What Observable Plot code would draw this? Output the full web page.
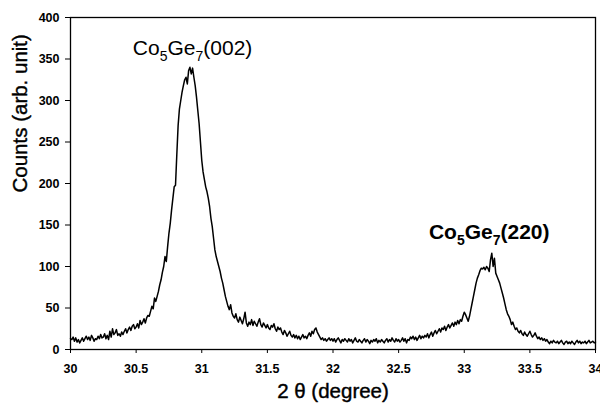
<!DOCTYPE html>
<html>
<head>
<meta charset="utf-8">
<script src="https://cdn.jsdelivr.net/npm/d3@7"></script>
<script src="https://cdn.jsdelivr.net/npm/@observablehq/plot@0.6"></script>
<style>
  html, body { margin: 0; padding: 0; background: #fff; }
  #chart svg { display: block; }
</style>
</head>
<body>
<div id="chart"></div>
<script>
// 2θ starts at 30.00 with a 0.01 degree step
const twoThetaStart = 30.0;
const twoThetaStep = 0.01;
const counts = [
  13,12,15,10,14,9,12,8,11,14,
  10,13,16,12,15,11,17,14,10,13,
  12,16,13,18,14,15,19,13,17,12,
  22,15,25,18,20,24,17,19,16,21,
  18,22,25,20,24,27,23,28,30,25,
  27,31,26,35,30,33,37,32,38,41,
  40,46,52,49,62,58,64,70,78,84,
  93,100,112,106,124,140,152,168,182,196,
  198,235,270,290,300,310,318,325,328,320,
  336,340,332,339,328,318,304,288,272,250,
  228,214,205,196,190,182,172,158,148,134,
  120,112,106,100,94,86,80,72,64,58,
  52,48,54,44,40,38,43,36,33,39,
  35,31,37,45,32,28,33,30,36,29,
  34,31,28,33,37,30,27,32,29,26,
  30,26,24,29,27,31,25,22,27,24,
  26,21,18,23,20,16,19,22,17,15,
  18,14,17,13,16,12,15,18,14,16,
  13,17,20,16,22,19,24,26,21,18,
  15,12,14,11,13,10,12,14,11,13,
  10,13,9,12,14,11,8,12,10,13,
  11,9,13,10,12,8,11,14,10,9,
  12,10,8,11,13,9,12,10,7,11,
  9,12,10,13,8,11,9,12,10,8,
  11,13,9,12,10,14,11,9,13,10,
  12,9,11,14,10,13,8,12,11,15,
  13,16,12,15,11,14,17,13,16,14,
  17,15,19,14,18,21,16,20,23,19,
  22,25,21,26,24,28,23,27,30,26,
  29,32,28,33,30,35,31,36,34,40,
  45,42,38,34,40,48,56,64,72,80,
  86,90,95,98,97,99,96,100,98,94,
  108,116,100,110,92,88,84,80,74,68,
  62,55,48,43,40,36,30,33,28,24,
  26,22,20,23,19,17,21,18,16,19,
  22,18,15,17,20,16,13,15,12,14,
  11,13,10,12,9,7,10,8,11,9,
  8,10,7,9,11,8,6,9,10,7,
  9,7,10,8,6,9,11,8,10,7,
  9,8,10,7,9,11,8,9,10,8,9
];

const xTicks = [30, 30.5, 31, 31.5, 32, 32.5, 33, 33.5, 34];
const yTicks = [0, 50, 100, 150, 200, 250, 300, 350, 400];
const xTitle = "2 θ (degree)";
const yTitle = "Counts (arb. unit)";

const peakLabels = [
  {x: 30.93, y: 363, base: "Co", n1: "5", mid: "Ge", n2: "7", tail: "(002)", weight: "normal"},
  {x: 33.19, y: 141, base: "Co", n1: "5", mid: "Ge", n2: "7", tail: "(220)", weight: "bold"}
];

const data = counts.map((c, i) => ({x: twoThetaStart + i * twoThetaStep, y: c}));

const font = "'Liberation Sans', Arial, sans-serif";

const chart = Plot.plot({
  width: 600,
  height: 413,
  marginLeft: 70,
  marginRight: 5,
  marginTop: 17,
  marginBottom: 64,
  style: {fontFamily: font, fontSize: "12px", color: "black", background: "white"},
  x: {domain: [30, 34]},
  y: {domain: [0, 400]},
  marks: [
    Plot.axisX(xTicks, {tickSize: 4, tickPadding: 11, label: null, tickFormat: d => String(d)}),
    Plot.axisY(yTicks, {tickSize: 5, tickPadding: 6, label: null, tickFormat: d => String(d)}),
    Plot.frame({stroke: "black", strokeWidth: 1.3}),
    Plot.lineY(data, {x: "x", y: "y", stroke: "black", strokeWidth: 1.5}),
    Plot.text(peakLabels, {x: "x", y: "y", text: d => d.base + d.n1 + d.mid + d.n2 + d.tail, fontSize: 21, fill: "black", className: "peak-label"}),
    Plot.text([xTitle], {frameAnchor: "bottom", dy: 48, fontSize: 20.5, fill: "black", stroke: "black", strokeWidth: 0.4}),
    Plot.text([yTitle], {frameAnchor: "left", dx: -50, dy: 9, rotate: -90, fontSize: 20.5, fill: "black", stroke: "black", strokeWidth: 0.4})
  ]
});

// Bold tick labels, as in the reference
chart.querySelectorAll('g[aria-label="x-axis tick label"], g[aria-label="y-axis tick label"]').forEach(g => {
  g.setAttribute("font-weight", "bold");
  g.setAttribute("font-size", "12.5");
});

// Render the stoichiometry digits as subscripts
const ns = "http://www.w3.org/2000/svg";
chart.querySelectorAll("g.peak-label text, .peak-label text").forEach((t, i) => {
  const d = peakLabels[i];
  if (!d) return;
  t.style.fontWeight = d.weight;
  t.textContent = "";
  const parts = [{s: d.base}, {s: d.n1, sub: true}, {s: d.mid}, {s: d.n2, sub: true}, {s: d.tail}];
  let shifted = false;
  parts.forEach(p => {
    const ts = document.createElementNS(ns, "tspan");
    ts.textContent = p.s;
    if (p.sub) {
      ts.setAttribute("font-size", "14");
      ts.setAttribute("dy", "6");
      shifted = true;
    } else if (shifted) {
      ts.setAttribute("dy", "-6");
      shifted = false;
    }
    t.appendChild(ts);
  });
});

document.getElementById("chart").appendChild(chart);
</script>
</body>
</html>
